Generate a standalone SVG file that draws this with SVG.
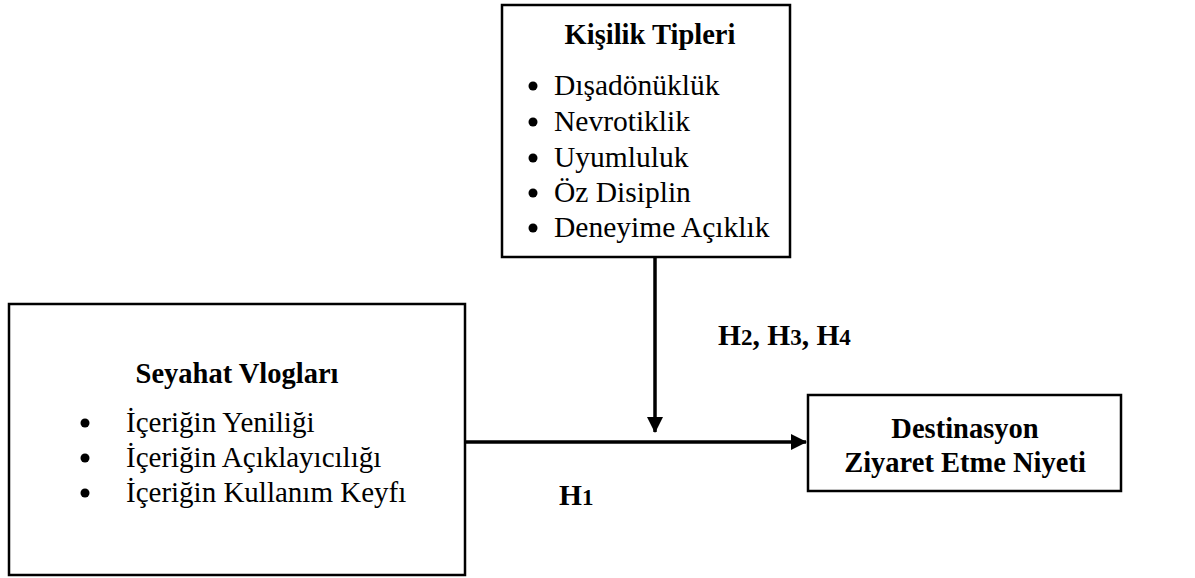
<svg xmlns="http://www.w3.org/2000/svg" width="1195" height="578" viewBox="0 0 1195 578">
<style>
text{font-family:'Liberation Serif','Times New Roman','DejaVu Serif',serif;font-size:29px;fill:#000}
.k{font-size:29.5px}
.b{font-weight:bold;font-size:28.5px}
.h{font-weight:bold;font-size:29.5px}
.sub{font-size:23px}
.box{fill:#fff;stroke:#000;stroke-width:2.5}
.line{stroke:#000;stroke-width:3.5;fill:none}
</style>
<defs>
<marker id="ah" markerUnits="userSpaceOnUse" markerWidth="16" markerHeight="16" refX="15" refY="8" orient="auto">
<path d="M0,0 L16,8 L0,16 Z" fill="#000"/>
</marker>
</defs>
<g id="connectors">
<line class="line" x1="465" y1="442" x2="806" y2="442" marker-end="url(#ah)"/>
<line class="line" x1="655" y1="257" x2="655" y2="432" marker-end="url(#ah)"/>
</g>
<g id="kisilik">
<rect class="box" x="502" y="5" width="288" height="252"/>
<text class="b" x="650" y="44" text-anchor="middle">Kişilik Tipleri</text>
<circle cx="533" cy="86" r="4.5"/>
<text class="k" x="554" y="95">Dışadönüklük</text>
<circle cx="533" cy="122" r="4.5"/>
<text class="k" x="554" y="131">Nevrotiklik</text>
<circle cx="533" cy="158" r="4.5"/>
<text class="k" x="554" y="167">Uyumluluk</text>
<circle cx="533" cy="193" r="4.5"/>
<text class="k" x="554" y="202">Öz Disiplin</text>
<circle cx="533" cy="228" r="4.5"/>
<text class="k" x="554" y="237">Deneyime Açıklık</text>
</g>
<g id="seyahat">
<rect class="box" x="9" y="304" width="456" height="271"/>
<text class="b" x="237" y="383" text-anchor="middle">Seyahat Vlogları</text>
<circle cx="85" cy="423" r="4.5"/>
<text x="126" y="432">İçeriğin Yeniliği</text>
<circle cx="85" cy="458" r="4.5"/>
<text x="126" y="467">İçeriğin Açıklayıcılığı</text>
<circle cx="85" cy="493" r="4.5"/>
<text x="126" y="502">İçeriğin Kullanım Keyfı</text>
</g>
<g id="destinasyon">
<rect class="box" x="808" y="395" width="313" height="96"/>
<text class="b" x="965" y="438" text-anchor="middle">Destinasyon</text>
<text class="b" x="965" y="472" text-anchor="middle">Ziyaret Etme Niyeti</text>
</g>
<g id="labels">
<text class="h" x="718" y="345">H<tspan class="sub">2</tspan>, H<tspan class="sub">3</tspan>, H<tspan class="sub">4</tspan></text>
<text class="h" x="559" y="505">H<tspan class="sub">1</tspan></text>
</g>
</svg>
